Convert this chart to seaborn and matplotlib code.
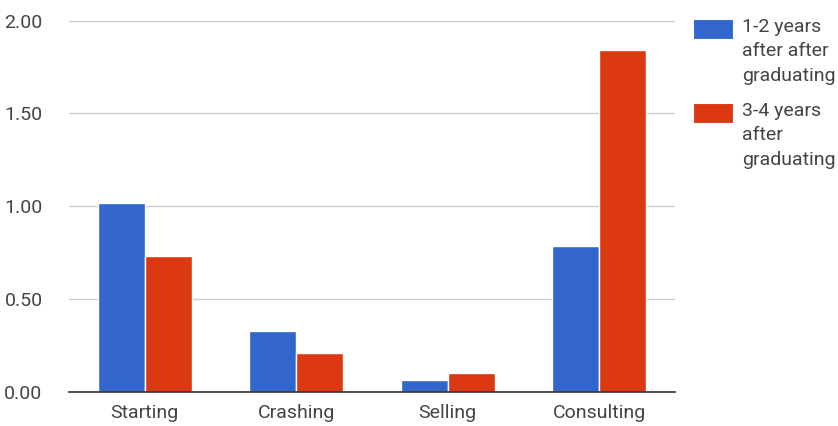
import matplotlib
matplotlib.use("Agg")
import matplotlib.pyplot as plt
import seaborn as sns
import pandas as pd
from matplotlib.patches import Rectangle

# Data
categories = ["Starting", "Crashing", "Selling", "Consulting"]
series_names = ["1-2 years\nafter after\ngraduating", "3-4 years\nafter\ngraduating"]
early_values = [1.02, 0.33, 0.065, 0.785]
late_values = [0.73, 0.21, 0.10, 1.84]
y_ticks = [0.0, 0.5, 1.0, 1.5, 2.0]
y_tick_labels = ["0.00", "0.50", "1.00", "1.50", "2.00"]
colors = ["#3366cc", "#dc3912"]

df = pd.DataFrame({
    "category": categories * 2,
    "series": [series_names[0]] * len(categories) + [series_names[1]] * len(categories),
    "value": early_values + late_values,
})

sns.set_theme(style="white")
plt.rcParams["font.family"] = ["Roboto", "DejaVu Sans"]
text_color = "#444444"
fs = 14

W, H = 838, 426
fig = plt.figure(figsize=(W / 100, H / 100), dpi=100)
ax = fig.add_axes([69 / W, (H - 392) / H, 606 / W, (392 - 20.5) / H])

sns.barplot(
    data=df, x="category", y="value", hue="series",
    palette=colors, saturation=1, width=0.62, gap=0, dodge=True,
    edgecolor="white", linewidth=1.0, legend=False, ax=ax,
)

ax.set_xlim(-0.5, len(categories) - 0.5)
ax.set_ylim(0, 2.0)
ax.set_yticks(y_ticks)
ax.set_yticklabels(y_tick_labels)
ax.set_xlabel("")
ax.set_ylabel("")
ax.yaxis.grid(True, color="#cccccc", linewidth=1)
ax.set_axisbelow(True)
for side in ["top", "right", "left"]:
    ax.spines[side].set_visible(False)
ax.spines["bottom"].set_color("#333333")
ax.spines["bottom"].set_linewidth(1.2)
ax.tick_params(axis="y", length=0, pad=19, labelsize=fs, labelcolor=text_color)
ax.tick_params(axis="x", length=0, pad=9, labelsize=fs, labelcolor=text_color)

# Legend on the right: swatch aligned with the first text line
legend_tops = [19, 103]
for name, color, top in zip(series_names, colors, legend_tops):
    fig.add_artist(Rectangle(
        (693 / W, (H - top - 20) / H), 40 / W, 20 / H,
        transform=fig.transFigure, facecolor=color, edgecolor="white", linewidth=0.8,
    ))
    fig.text(742 / W, (H - top + 1) / H, name, ha="left", va="top",
             fontsize=fs, color=text_color, linespacing=1.45)

fig.savefig("out.png", dpi=100)
